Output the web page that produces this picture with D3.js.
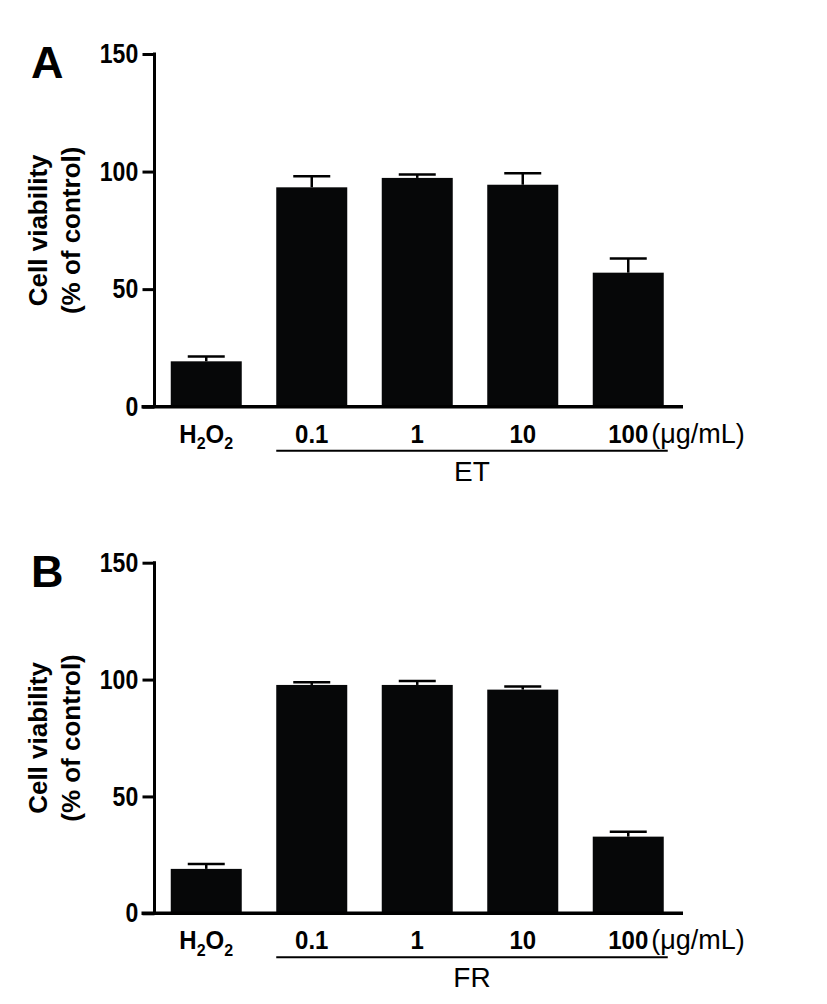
<!DOCTYPE html>
<html>
<head>
<meta charset="utf-8">
<script src="https://cdn.jsdelivr.net/npm/d3@7"></script>
<style>
  html, body { margin: 0; padding: 0; background: #fff; }
  svg { display: block; }
  text { font-family: "Liberation Sans", Arial, Helvetica, sans-serif; fill: #000; }
</style>
</head>
<body>
<svg id="chart" width="827" height="1004"></svg>
<script>
// ---- data ----
const categories = ["H2O2", "0.1", "1", "10", "100"];
const valuesET = [19.3, 93.3, 97.3, 94.4, 57.0];
const errorsET = [2.0, 4.7, 1.5, 4.9, 6.0];
const valuesFR = [19.0, 97.7, 97.7, 95.7, 32.8];
const errorsFR = [2.1, 1.1, 1.7, 1.3, 2.1];
const yTicks = [0, 50, 100, 150];
const panelLetters = ["A", "B"];
const groupLabels = ["ET", "FR"];
const unitLabel = "(\u03bcg/mL)";
const yLabelLines = ["Cell viability", "(% of control)"];

const svg = d3.select("#chart");

const panels = [
  { letter: panelLetters[0], group: groupLabels[0], values: valuesET, errors: errorsET, top: 54, bottom: 406.7 },
  { letter: panelLetters[1], group: groupLabels[1], values: valuesFR, errors: errorsFR, top: 562.7, bottom: 913.3 }
];

const axisX = 154.5;
const x = d3.scaleBand().domain(categories).range([153.5, 681]).paddingInner(0.327).paddingOuter(0.1635);

panels.forEach(p => {
  const g = svg.append("g");
  const y = d3.scaleLinear().domain([0, 150]).range([p.bottom, p.top]);

  // bars
  g.selectAll("rect.bar").data(p.values).enter().append("rect")
    .attr("class", "bar")
    .attr("x", (d, i) => x(categories[i]))
    .attr("width", x.bandwidth())
    .attr("y", d => y(d))
    .attr("height", d => y(0) - y(d))
    .attr("fill", "#060708");

  // error bars
  const capW = 37;
  p.values.forEach((v, i) => {
    const cx = x(categories[i]) + x.bandwidth() / 2;
    g.append("line").attr("x1", cx).attr("x2", cx).attr("y1", y(v)).attr("y2", y(v + p.errors[i]))
      .attr("stroke", "#000").attr("stroke-width", 2.5);
    g.append("line").attr("x1", cx - capW / 2).attr("x2", cx + capW / 2)
      .attr("y1", y(v + p.errors[i])).attr("y2", y(v + p.errors[i]))
      .attr("stroke", "#000").attr("stroke-width", 2.5);
  });

  // y axis
  const yAxis = d3.axisLeft(y).tickValues(yTicks).tickSize(12).tickPadding(5).tickFormat(d3.format("d"));
  const ya = g.append("g").attr("transform", `translate(${axisX},0)`).call(yAxis);
  ya.select(".domain").attr("d", `M0,${p.top - 1.5}V${p.bottom}`).attr("stroke", "#000").attr("stroke-width", 3);
  ya.selectAll(".tick line").attr("stroke", "#000").attr("stroke-width", 3);
  ya.selectAll(".tick text").attr("font-size", 24).attr("font-weight", "bold")
    .attr("font-family", '"Liberation Sans", Arial, sans-serif').attr("fill", "#000")
    .attr("transform", "scale(0.96,1.12)");

  // x axis line
  g.append("line").attr("x1", 141.5).attr("x2", 683).attr("y1", p.bottom).attr("y2", p.bottom)
    .attr("stroke", "#000").attr("stroke-width", 3.5);

  // x labels
  const labY = p.bottom + 36;
  categories.forEach((c, i) => {
    const cx = x(c) + x.bandwidth() / 2;
    const t = g.append("text").attr("transform", `translate(${cx},${labY}) scale(1,1.08)`)
      .attr("text-anchor", "middle").attr("font-size", 24).attr("font-weight", "bold");
    if (c === "H2O2") {
      t.append("tspan").text("H");
      t.append("tspan").text("2").attr("font-size", 16).attr("dy", 6);
      t.append("tspan").text("O").attr("dy", -6);
      t.append("tspan").text("2").attr("font-size", 16).attr("dy", 6);
    } else {
      t.text(c);
    }
  });
  // unit label
  const lastX = x(categories[4]) + x.bandwidth() / 2;
  g.append("text").attr("x", lastX + 23).attr("y", labY).attr("font-size", 27).text(unitLabel);

  // group line & label
  const gx1 = x(categories[1]);
  const gx2 = x(categories[4]) + x.bandwidth() + 4;
  g.append("line").attr("x1", gx1).attr("x2", gx2).attr("y1", p.bottom + 44).attr("y2", p.bottom + 44)
    .attr("stroke", "#000").attr("stroke-width", 2);
  g.append("text").attr("x", (gx1 + gx2) / 2).attr("y", p.bottom + 74).attr("text-anchor", "middle")
    .attr("font-size", 28).text(p.group);

  // y label
  const midY = (p.top + p.bottom) / 2;
  g.append("text").attr("transform", `translate(47,${midY}) rotate(-90)`).attr("text-anchor", "middle")
    .attr("font-size", 26).attr("font-weight", "bold").text(yLabelLines[0]);
  g.append("text").attr("transform", `translate(80,${midY}) rotate(-90)`).attr("text-anchor", "middle")
    .attr("font-size", 26).attr("font-weight", "bold").text(yLabelLines[1]);

  // panel letter
  g.append("text").attr("x", 31).attr("y", p.top + 24).attr("font-size", 45).attr("font-weight", "bold").text(p.letter);
});
</script>
</body>
</html>
